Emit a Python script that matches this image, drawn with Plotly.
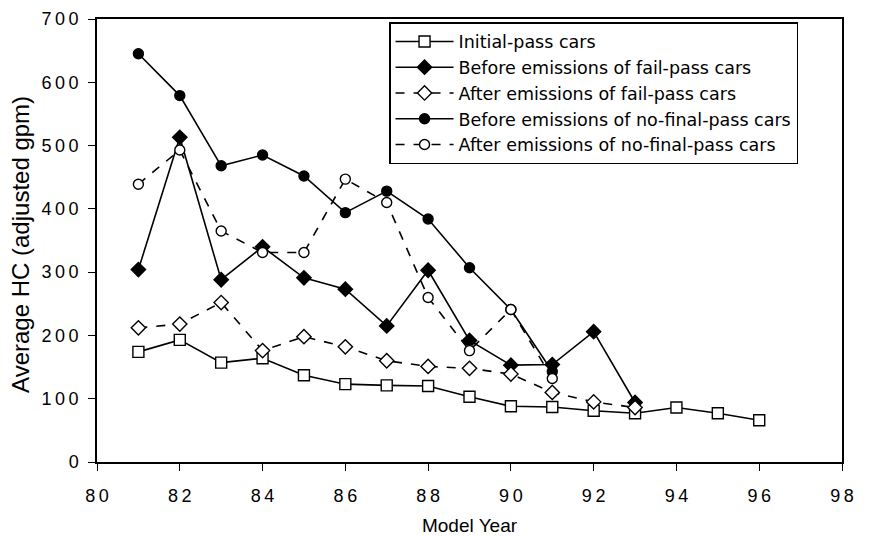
import plotly.graph_objects as go

# Model years for each series
years_initial = [81, 82, 83, 84, 85, 86, 87, 88, 89, 90, 91, 92, 93, 94, 95, 96]
years_failpass = [81, 82, 83, 84, 85, 86, 87, 88, 89, 90, 91, 92, 93]
years_nofinal = [81, 82, 83, 84, 85, 86, 87, 88, 89, 90, 91]

# Average HC (adjusted gpm)
initial_pass = [174, 193, 157, 164, 137, 123, 121, 120, 103, 88, 87, 81, 77, 86, 77, 66]
before_fail_pass = [304, 513, 288, 340, 291, 273, 215, 303, 192, 153, 154, 206, 94]
after_fail_pass = [212, 218, 252, 176, 198, 182, 160, 151, 148, 139, 110, 95, 86]
before_no_final = [645, 579, 468, 485, 452, 394, 428, 384, 307, 241, 143]
after_no_final = [439, 493, 365, 331, 331, 447, 410, 260, 176, 241, 132]

x_ticks = [80, 82, 84, 86, 88, 90, 92, 94, 96, 98]
y_ticks = [0, 100, 200, 300, 400, 500, 600, 700]

FONT = "Liberation Sans, Arial, sans-serif"
LEGEND_FONT = "DejaVu Sans, Liberation Sans, sans-serif"
LINE_W = 1.6
THIN = "\u2009"


def spaced(v):
    # tick numbers are set with a little tracking between digits
    return THIN.join(str(v))


fig = go.Figure()


def add_series(x, y, name, symbol, filled, dash, size):
    fig.add_trace(go.Scatter(
        x=x, y=y, name=name, mode="lines+markers",
        line=dict(color="black", width=LINE_W, dash=dash),
        marker=dict(symbol=symbol, size=size, color="black" if filled else "white",
                    line=dict(color="black", width=1.4)),
    ))


add_series(years_initial, initial_pass, "Initial-pass cars", "square", False, "solid", 11)
add_series(years_failpass, before_fail_pass, "Before emissions of fail-pass cars", "diamond", True, "solid", 11)
add_series(years_failpass, after_fail_pass, "After emissions of fail-pass cars", "diamond", False, "dash", 11)
add_series(years_nofinal, before_no_final, "Before emissions of no-final-pass cars", "circle", True, "solid", 10)
add_series(years_nofinal, after_no_final, "After emissions of no-final-pass cars", "circle", False, "dash", 10)

axis_common = dict(showgrid=False, zeroline=False, automargin=False)

fig.update_layout(
    width=871, height=536,
    margin=dict(l=97, r=29, t=19, b=74, autoexpand=False),
    paper_bgcolor="white", plot_bgcolor="white",
    font=dict(family=FONT, color="black"),
    showlegend=True,
    legend=dict(
        x=0.392, y=0.993, xanchor="left", yanchor="top",
        bgcolor="white", bordercolor="black", borderwidth=1.5,
        font=dict(size=17.5, family=LEGEND_FONT, color="black"),
        tracegroupgap=0, itemwidth=58,
    ),
    xaxis=dict(
        range=[80, 98], tickvals=x_ticks, ticktext=[spaced(v) for v in x_ticks],
        showline=True, linecolor="black", linewidth=1.5,
        mirror=True, ticks="outside", ticklen=7, tickwidth=1, tickcolor="black",
        tickfont=dict(size=18, family=FONT), ticklabelstandoff=10,
        title=dict(text="Model Year", font=dict(size=19, family=FONT)),
        **axis_common,
    ),
    yaxis=dict(
        range=[0, 700], tickvals=y_ticks, ticktext=[spaced(v) for v in y_ticks],
        showline=True, linecolor="black", linewidth=1.5,
        mirror=True, ticks="outside", ticklen=7, tickwidth=1, tickcolor="black",
        tickfont=dict(size=18, family=FONT), ticklabelstandoff=6,
        **axis_common,
    ),
    # companion axes that carry the short inner half of each tick mark
    xaxis2=dict(
        range=[80, 98], tickvals=x_ticks, overlaying="x", anchor="y", side="bottom",
        showticklabels=False, showline=False, ticks="inside", ticklen=6,
        tickwidth=1, tickcolor="black", **axis_common,
    ),
    yaxis2=dict(
        range=[0, 700], tickvals=y_ticks, overlaying="y", anchor="x", side="left",
        showticklabels=False, showline=False, ticks="inside", ticklen=6,
        tickwidth=1, tickcolor="black", **axis_common,
    ),
)

# vertical axis title
fig.add_annotation(
    text="Average HC (adjusted gpm)", textangle=-90,
    xref="paper", yref="paper", x=-0.102, y=0.49, xanchor="center", yanchor="middle",
    showarrow=False, font=dict(size=24, family=FONT, color="black"),
)

fig.write_html("out.html")
